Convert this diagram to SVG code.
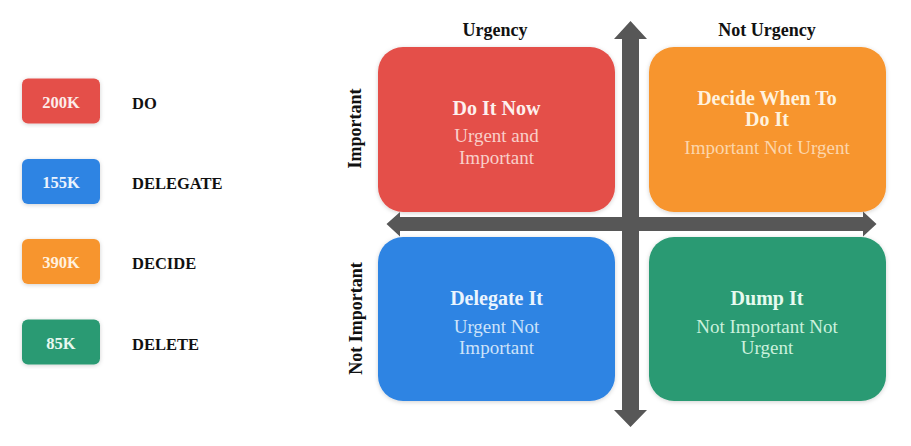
<svg xmlns="http://www.w3.org/2000/svg" width="911" height="446" viewBox="0 0 911 446">
  <defs>
    <filter id="soft" x="-10%" y="-10%" width="120%" height="120%">
      <feDropShadow dx="0" dy="1" stdDeviation="2" flood-color="#000" flood-opacity="0.18"/>
    </filter>
  </defs>
  <style>
    .lbl { font-family: "Liberation Serif", "Times New Roman", serif; font-weight: bold; fill: #111; }
    .leg { font-size: 16.5px; }
    .val { font-family: "Liberation Serif", "Times New Roman", serif; font-weight: bold; font-size: 16.5px; text-anchor: middle; }
    .axis { font-size: 18px; text-anchor: middle; }
    .title { font-family: "Liberation Serif", "Times New Roman", serif; font-weight: bold; font-size: 20px; text-anchor: middle; }
    .sub { font-family: "Liberation Serif", "Times New Roman", serif; font-size: 19px; text-anchor: middle; }
    .arrow { fill: #575757; }
  </style>
  <rect width="911" height="446" fill="#ffffff"/>

  <!-- Legend -->
  <g id="legend-do">
    <rect x="22" y="78.5" width="78" height="45" rx="6" fill="#E4504A" filter="url(#soft)"/>
    <text class="val" x="61" y="107.5" fill="#FCEDEB">200K</text>
    <text class="lbl leg" x="132" y="108.5">DO</text>
  </g>
  <g id="legend-delegate">
    <rect x="22" y="159" width="78" height="45" rx="6" fill="#2F84E3" filter="url(#soft)"/>
    <text class="val" x="61" y="187.5" fill="#EAF3FD">155K</text>
    <text class="lbl leg" x="132" y="189">DELEGATE</text>
  </g>
  <g id="legend-decide">
    <rect x="22" y="239" width="78" height="45" rx="6" fill="#F7952E" filter="url(#soft)"/>
    <text class="val" x="61" y="267.5" fill="#FFF1DF">390K</text>
    <text class="lbl leg" x="132" y="269">DECIDE</text>
  </g>
  <g id="legend-delete">
    <rect x="22" y="319.5" width="78" height="45" rx="6" fill="#2A9A73" filter="url(#soft)"/>
    <text class="val" x="61" y="348.5" fill="#E8F8EF">85K</text>
    <text class="lbl leg" x="132" y="349.5">DELETE</text>
  </g>

  <!-- Axis labels -->
  <g id="axis-labels">
    <text class="lbl axis" x="495" y="36">Urgency</text>
    <text class="lbl axis" x="767" y="36">Not Urgency</text>
    <text class="lbl axis" transform="translate(361,128.5) rotate(-90)">Important</text>
    <text class="lbl axis" transform="translate(362,318.5) rotate(-90)">Not Important</text>
  </g>

  <!-- Quadrants -->
  <g id="do-it-now">
    <rect x="378" y="47" width="237" height="165" rx="25" fill="#E4504A" filter="url(#soft)"/>
    <text class="title" x="496.5" y="114.5" fill="#FDF0EE">Do It Now</text>
    <text class="sub" x="496.5" y="142" fill="#F9CFCA">Urgent and</text>
    <text class="sub" x="496.5" y="164" fill="#F9CFCA">Important</text>
  </g>
  <g id="decide-when">
    <rect x="649" y="47" width="237" height="165" rx="25" fill="#F7952E" filter="url(#soft)"/>
    <text class="title" x="767" y="105" fill="#FFF2DE">Decide When To</text>
    <text class="title" x="767" y="125.5" fill="#FFF2DE">Do It</text>
    <text class="sub" x="767" y="154" fill="#FCD6AC">Important Not Urgent</text>
  </g>
  <g id="delegate-it">
    <rect x="378" y="237" width="237" height="164" rx="25" fill="#2F84E3" filter="url(#soft)"/>
    <text class="title" x="496.5" y="305" fill="#EAF4FE">Delegate It</text>
    <text class="sub" x="496.5" y="332.5" fill="#CDE3FA">Urgent Not</text>
    <text class="sub" x="496.5" y="353.5" fill="#CDE3FA">Important</text>
  </g>
  <g id="dump-it">
    <rect x="649" y="237" width="237" height="164" rx="25" fill="#2A9A73" filter="url(#soft)"/>
    <text class="title" x="767" y="305" fill="#E6FAEF">Dump It</text>
    <text class="sub" x="767" y="332.5" fill="#CBF1DD">Not Important Not</text>
    <text class="sub" x="767" y="353.5" fill="#CBF1DD">Urgent</text>
  </g>

  <!-- Axes (connectors) -->
  <g id="connectors">
    <polygon class="arrow" points="630.5,21 647,39 639,39 639,410 647,410 630.5,427 614,410 622,410 622,39 614,39"/>
    <polygon class="arrow" points="386.5,224 400,212 400,217 863,217 863,211.5 876.5,224 863,236.5 863,231 400,231 400,236.5"/>
  </g>
</svg>
